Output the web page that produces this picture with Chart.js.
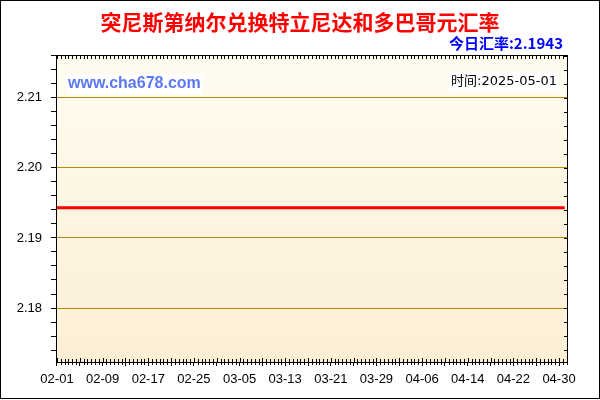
<!DOCTYPE html>
<html>
<head>
<meta charset="utf-8">
<script src="https://cdn.jsdelivr.net/npm/chart.js@4.4.1/dist/chart.umd.min.js"></script>
<style>
  html, body { margin: 0; padding: 0; background: #fff; }
  #wrap { width: 600px; height: 400px; }
</style>
</head>
<body>
<div id="wrap"><canvas id="c" width="600" height="400"></canvas></div>
<script>
var title = '突尼斯第纳尔兑换特立尼达和多巴哥元汇率';
var rateText = '今日汇率:2.1943';
var timeText = '时间:2025-05-01';
var siteText = 'www.cha678.com';

var dates = [
  '02-01','02-02','02-03','02-04','02-05','02-06','02-07','02-08','02-09','02-10',
  '02-11','02-12','02-13','02-14','02-15','02-16','02-17','02-18','02-19','02-20',
  '02-21','02-22','02-23','02-24','02-25','02-26','02-27','02-28','03-01','03-02',
  '03-03','03-04','03-05','03-06','03-07','03-08','03-09','03-10','03-11','03-12',
  '03-13','03-14','03-15','03-16','03-17','03-18','03-19','03-20','03-21','03-22',
  '03-23','03-24','03-25','03-26','03-27','03-28','03-29','03-30','03-31','04-01',
  '04-02','04-03','04-04','04-05','04-06','04-07','04-08','04-09','04-10','04-11',
  '04-12','04-13','04-14','04-15','04-16','04-17','04-18','04-19','04-20','04-21',
  '04-22','04-23','04-24','04-25','04-26','04-27','04-28','04-29','04-30','05-01'
];

var rates = [
  2.1943,2.1943,2.1943,2.1943,2.1943,2.1943,2.1943,2.1943,2.1943,2.1943,
  2.1943,2.1943,2.1943,2.1943,2.1943,2.1943,2.1943,2.1943,2.1943,2.1943,
  2.1943,2.1943,2.1943,2.1943,2.1943,2.1943,2.1943,2.1943,2.1943,2.1943,
  2.1943,2.1943,2.1943,2.1943,2.1943,2.1943,2.1943,2.1943,2.1943,2.1943,
  2.1943,2.1943,2.1943,2.1943,2.1943,2.1943,2.1943,2.1943,2.1943,2.1943,
  2.1943,2.1943,2.1943,2.1943,2.1943,2.1943,2.1943,2.1943,2.1943,2.1943,
  2.1943,2.1943,2.1943,2.1943,2.1943,2.1943,2.1943,2.1943,2.1943,2.1943,
  2.1943,2.1943,2.1943,2.1943,2.1943,2.1943,2.1943,2.1943,2.1943,2.1943,
  2.1943,2.1943,2.1943,2.1943,2.1943,2.1943,2.1943,2.1943,2.1943,2.1943
];

var xTickLabels = ['02-01','02-09','02-17','02-25','03-05','03-13','03-21','03-29','04-06','04-14','04-22','04-30'];
var yTickLabels = [2.18, 2.19, 2.20, 2.21];

var GRID_GOLD = '#b8870c';
var CJK = "'Noto Sans CJK SC', 'Liberation Sans', sans-serif";

function isMajorY(v) {
  return yTickLabels.some(function(t) { return Math.abs(t - v) < 1e-7; });
}

function textBox(ctx, text, x, y, align, font, color) {
  ctx.font = font;
  var w = ctx.measureText(text).width;
  var left = align === 'right' ? x - w : x;
  ctx.fillStyle = '#fff';
  ctx.fillRect(left - 2, y - 10, w + 4, 20);
  ctx.fillStyle = color;
  ctx.textAlign = 'left';
  ctx.textBaseline = 'middle';
  ctx.fillText(text, left, y);
}

var decor = {
  id: 'decor',
  beforeDraw: function(chart) {
    var ctx = chart.ctx, a = chart.chartArea;
    ctx.save();
    ctx.fillStyle = '#fff';
    ctx.fillRect(0, 0, chart.width, chart.height);
    var g = ctx.createLinearGradient(0, a.top, 0, a.bottom);
    g.addColorStop(0, '#fffcf0');
    g.addColorStop(1, '#fcefd5');
    ctx.fillStyle = g;
    ctx.fillRect(a.left, a.top, a.right - a.left, a.bottom - a.top);
    ctx.restore();
  },
  afterDraw: function(chart) {
    var ctx = chart.ctx, a = chart.chartArea;
    var xs = chart.scales.x, ys = chart.scales.y;
    ctx.save();
    ctx.strokeStyle = '#000';
    ctx.lineWidth = 1;
    ctx.beginPath();
    // x minor ticks every 2/3 day, bottom (crossing) and top (inward)
    for (var k = 0; k * 2 / 3 <= xs.max; k++) {
      var v = k * 2 / 3;
      var px = Math.round(xs.getPixelForValue(v)) + 0.5;
      var major = k % 6 === 0;
      var len = major ? 4 : 3;
      ctx.moveTo(px, a.bottom - len);
      ctx.lineTo(px, a.bottom + (major ? 0 : 3));
      ctx.moveTo(px, a.top);
      ctx.lineTo(px, a.top + 4);
    }
    // right side y ticks, inward
    ys.ticks.forEach(function(t) {
      var py = Math.round(ys.getPixelForValue(t.value)) + 0.5;
      ctx.moveTo(a.right - 3, py);
      ctx.lineTo(a.right, py);
    });
    ctx.stroke();
    ctx.strokeRect(Math.round(a.left) + 0.5, Math.round(a.top) + 0.5,
                   Math.round(a.right - a.left), Math.round(a.bottom - a.top));
    // outer frame
    ctx.strokeRect(0.5, 0.5, chart.width - 1, chart.height - 2);

    // texts
    ctx.font = 'bold 21px ' + CJK;
    ctx.fillStyle = '#ff0000';
    ctx.textAlign = 'center';
    ctx.textBaseline = 'middle';
    ctx.fillText(title, 300, 22);

    ctx.font = 'bold 15px ' + CJK;
    ctx.fillStyle = '#0000ff';
    ctx.textAlign = 'right';
    ctx.fillText(rateText, 563, 43);

    textBox(ctx, siteText, 68, 84, 'left', "bold 16px 'Liberation Sans', sans-serif", '#5b78f2');
    textBox(ctx, timeText, 557, 82, 'right', "13px 'DejaVu Sans', 'Noto Sans CJK SC', sans-serif", '#000');
    ctx.restore();
  }
};

var points = dates.map(function(d, i) { return { x: i, y: rates[i] }; });

new Chart(document.getElementById('c'), {
  type: 'line',
  data: {
    datasets: [{
      data: points,
      borderColor: '#ff0000',
      borderWidth: 3,
      pointRadius: 0,
      tension: 0,
      fill: false
    }]
  },
  options: {
    responsive: false,
    animation: false,
    devicePixelRatio: 1,
    layout: { padding: { top: 55, right: 33, left: 0, bottom: 0 } },
    plugins: { legend: { display: false }, tooltip: { enabled: false }, title: { display: false } },
    scales: {
      x: {
        type: 'linear',
        min: -0.175,
        max: 89.4,
        afterFit: function(s) { s.height = 38; },
        border: { display: true, color: '#000' },
        grid: { drawOnChartArea: false, tickLength: 4, tickColor: '#000' },
        ticks: {
          stepSize: 4,
          includeBounds: false,
          autoSkip: false,
          maxRotation: 0,
          padding: 6,
          color: '#000',
          font: { family: "'Liberation Sans', Arial, sans-serif", size: 13 },
          callback: function(v) {
            var d = dates[v];
            return xTickLabels.indexOf(d) >= 0 ? d : '';
          }
        }
      },
      y: {
        type: 'linear',
        min: 2.1723,
        max: 2.2161,
        afterFit: function(s) { s.width = 56; },
        border: { display: true, color: '#000' },
        grid: {
          tickLength: 5,
          tickColor: '#000',
          color: function(c) { return c.tick && isMajorY(c.tick.value) ? GRID_GOLD : 'rgba(0,0,0,0)'; },
          lineWidth: 1
        },
        ticks: {
          stepSize: 0.002,
          includeBounds: false,
          autoSkip: false,
          padding: 9,
          color: '#000',
          font: { family: "'Liberation Sans', Arial, sans-serif", size: 13 },
          callback: function(v) { return isMajorY(v) ? v.toFixed(2) : ''; }
        }
      }
    }
  },
  plugins: [decor]
});
</script>
</body>
</html>
